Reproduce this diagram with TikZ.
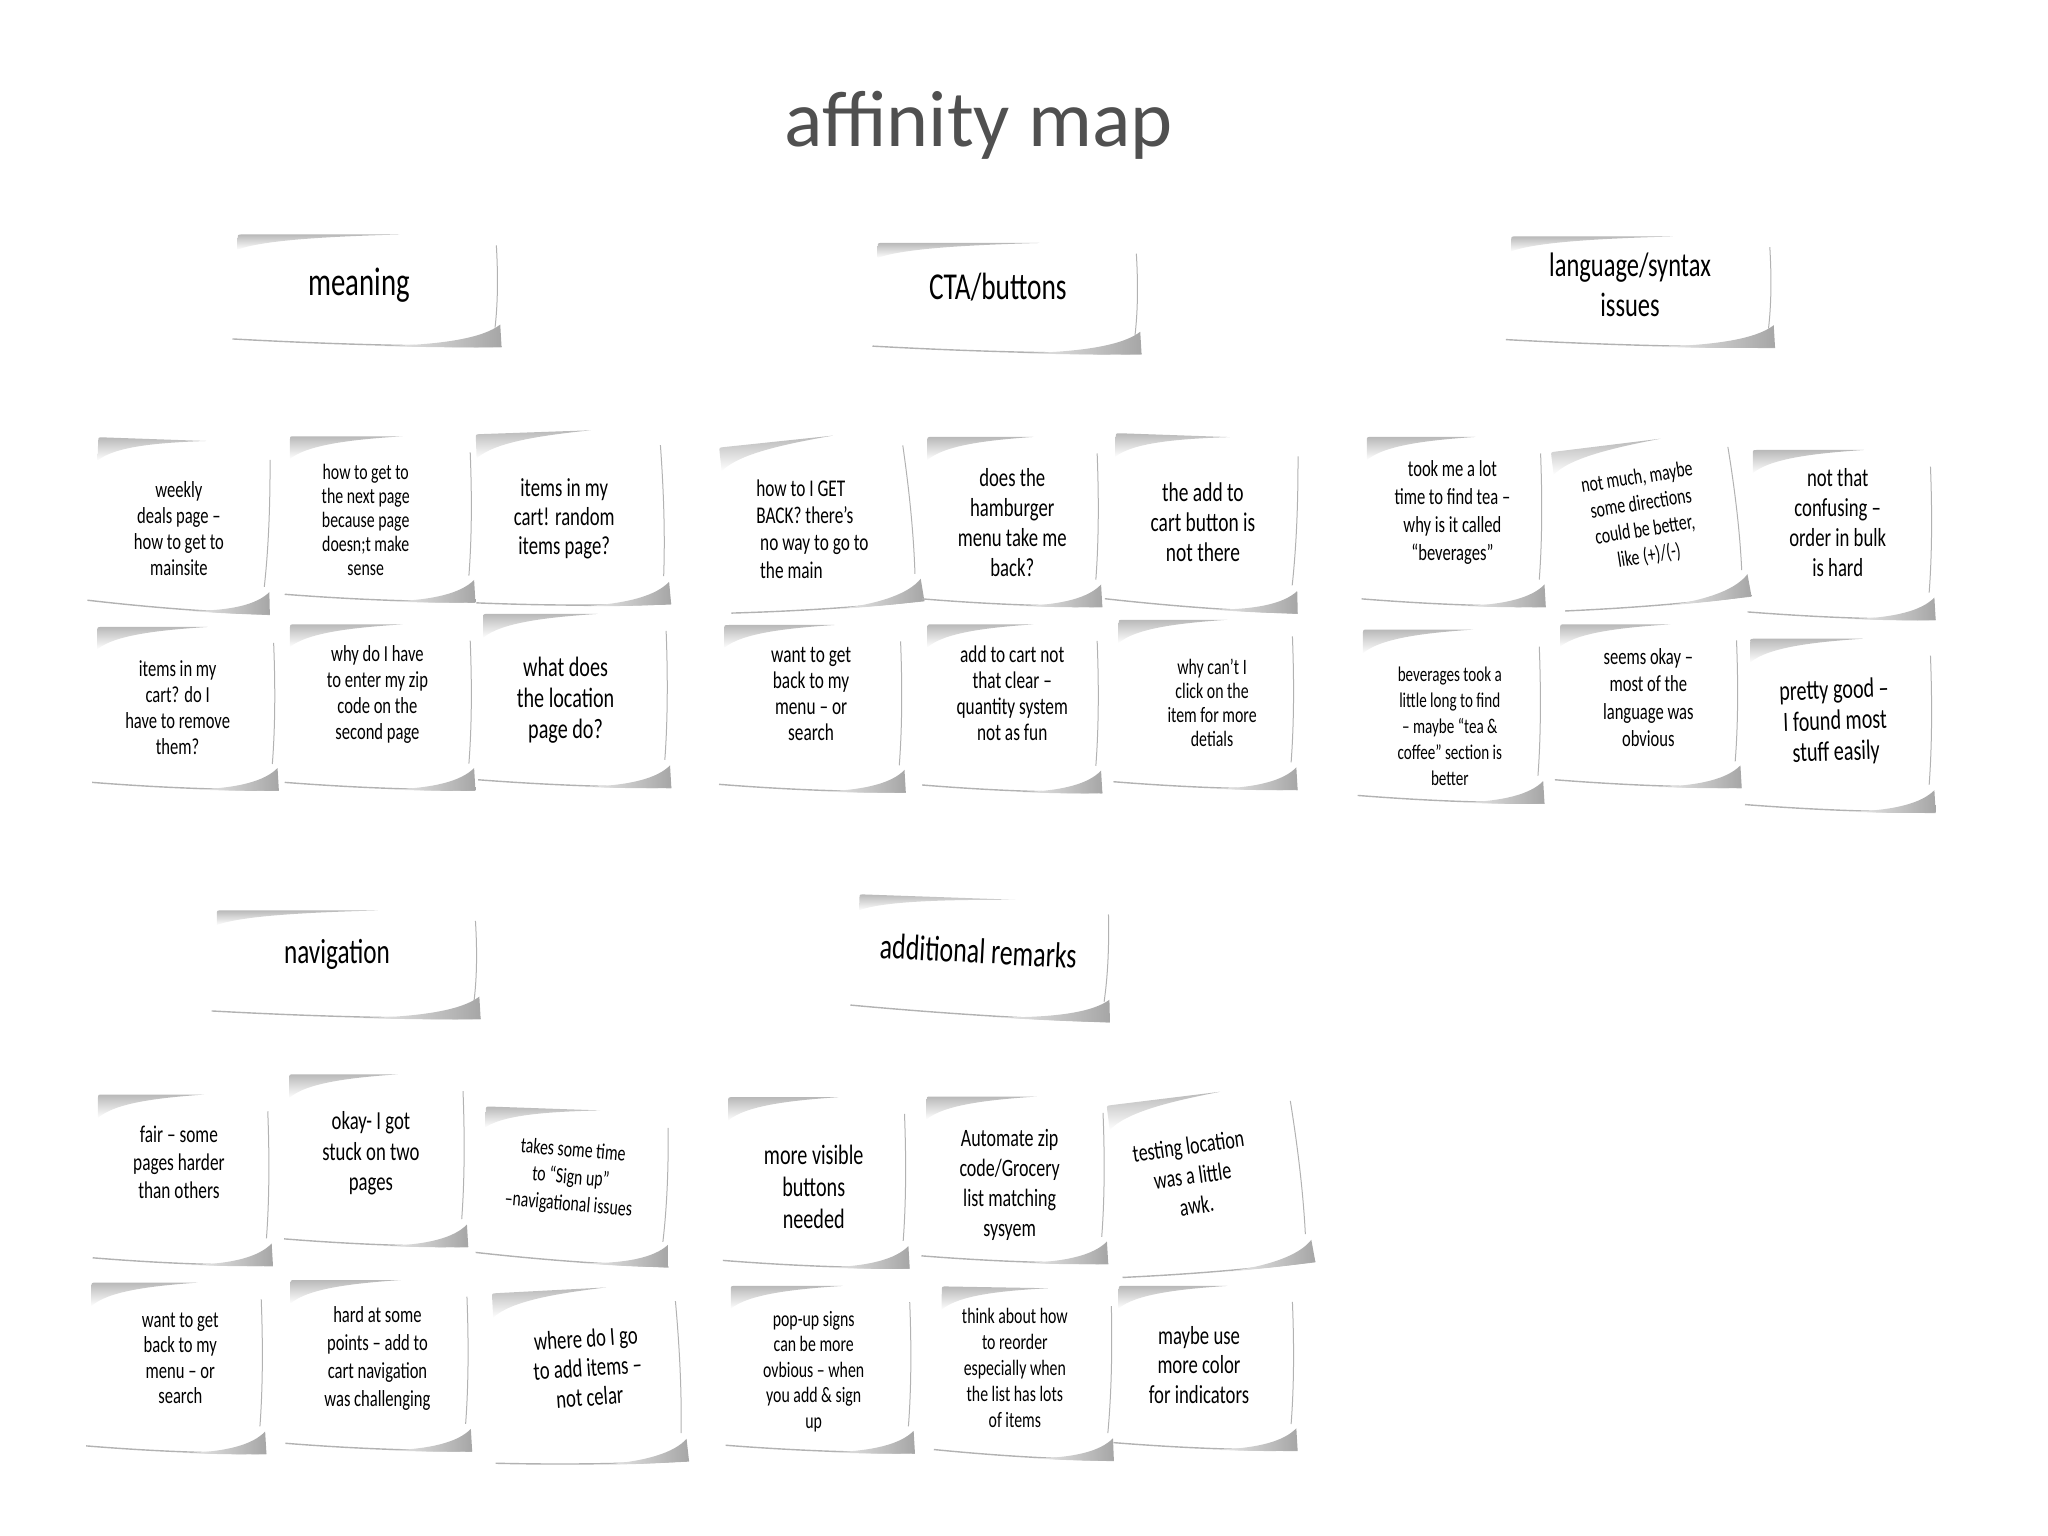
\documentclass[tikz,border=0pt]{standalone}
\usepackage{fontspec}
\newfontfamily\hand{Carlito}[FakeStretch=0.72,Ligatures=TeX]
\newfontfamily\titlefont{Carlito}[Ligatures=TeX]
\definecolor{titlegray}{RGB}{80,80,80}
\newcommand{\notepaper}[5]{%
 \begin{scope}[shift={(#1,#2)},rotate=#5]
  \pgfmathsetmacro\npA{#3/2}%
  \pgfmathsetmacro\npB{#4/2}%
  \shade[top color=gray!55,bottom color=white]
    (-\npA,-0.72*\npB) -- (-\npA,-\npB+3) .. controls (-\npA,-\npB) .. (-\npA+4,-\npB)
    -- (0.25*\npA,-\npB) .. controls (-0.3*\npA,-0.96*\npB) and (-0.8*\npA,-0.9*\npB) .. (-\npA,-0.72*\npB) -- cycle;
  \draw[gray!60,line width=0.5pt] (\npA,-0.8*\npB) .. controls (\npA+1.5,-0.2*\npB) and (\npA+1,0.3*\npB) .. (\npA-1,0.72*\npB);
  \draw[gray!60,line width=0.7pt] (-\npA-4,\npB-3) .. controls (-0.3*\npA,\npB+1) and (0.3*\npA,\npB+2.5) .. (\npA+4,\npB+3);
  \shade[left color=gray!15,right color=gray!70]
    (0.1*\npA,\npB+2.5) .. controls (0.6*\npA,\npB+1.5) and (0.9*\npA,\npB-4) .. (\npA+3,\npB-14)
    -- (\npA+4,\npB+3) .. controls (0.7*\npA,\npB+4) and (0.4*\npA,\npB+3) .. (0.1*\npA,\npB+2.5) -- cycle;
 \end{scope}}
\newcommand{\hs}[2]{\hand\fontsize{#1}{#2}\selectfont}
\tikzset{
  ntext/.style={align=center,inner sep=0pt,text=black},
  htext/.style={align=center,inner sep=0pt,text=black}
}
\begin{document}
\begin{tikzpicture}[x=0.653pt,y=-0.653pt]
\useasboundingbox (0,0) rectangle (1568,1176);
% title
\node[font=\titlefont\fontsize{40}{40}\selectfont,text=titlegray,anchor=base] (title) at (749,112) {affinity map};

% headers
\notepaper{281}{221}{198}{83}{0}
\node[htext,font=\hs{20}{22}] (hmeaning) at (275,218) {meaning};
\notepaper{771}{227}{198}{82}{0}
\node[htext,font=\hs{19}{21}] (hcta) at (764,220) {CTA/buttons};
\notepaper{1256}{222}{198}{82}{0}
\node[htext,font=\hs{17}{19.6}] (hlang) at (1248,218) {language/syntax\\issues};
\notepaper{265}{737}{198}{80}{0}
\node[htext,font=\hs{17.5}{20}] (hnav) at (258,731) {navigation};
\notepaper{752}{732}{191}{88}{-2}
\node[htext,font=\hs{18}{20},rotate=-3] (hadd) at (749,728) {additional remarks};

% meaning
\notepaper{139}{401}{132}{128}{-2}
\node[ntext,font=\hs{11.5}{13}] (m1) at (137,405) {weekly\\deals page –\\how to get to\\mainsite};
\notepaper{291}{396}{138}{124}{0}
\node[ntext,font=\hs{11}{12}] (m2) at (280,398) {how to get to\\the next page\\because page\\doesn;t make\\sense};
\notepaper{437}{396}{141}{132}{2}
\node[ntext,font=\hs{13}{14.5}] (m3) at (432,397) {items in my\\cart! random\\items page?};
\notepaper{142}{541}{135}{122}{0}
\node[ntext,font=\hs{11.5}{13}] (m4) at (136,542) {items in my\\cart? do I\\have to remove\\them?};
\notepaper{291}{540}{138}{124}{0}
\node[ntext,font=\hs{11.5}{13}] (m5) at (289,532) {why do I have\\to enter my zip\\code on the\\second page};
\notepaper{440}{535}{140}{130}{0}
\node[ntext,font=\hs{14}{15.3}] (m6) at (433,536) {what does\\the location\\page do?};

% CTA
\notepaper{627}{400}{140}{130}{6}
\node[ntext,font=\hs{12}{13.7},align=left] (c1) at (622,405) {how to I GET\\BACK? there’s\\\ no way to go to\\\ the main};
\notepaper{775}{398}{130}{127}{0}
\node[ntext,font=\hs{13}{15}] (c2) at (775,400) {does the\\hamburger\\menu take me\\back?};
\notepaper{922}{399}{140}{130}{-2}
\node[ntext,font=\hs{13.5}{15}] (c3) at (921,400) {the add to\\cart button is\\not there};
\notepaper{622}{541}{135}{125}{0}
\node[ntext,font=\hs{12}{13}] (c4) at (621,531) {want to get\\back to my\\menu – or\\search};
\notepaper{775}{541}{130}{126}{0}
\node[ntext,font=\hs{12}{13}] (c5) at (775,531) {add to cart not\\that clear –\\quantity system\\not as fun};
\notepaper{923}{538}{133}{127}{0}
\node[ntext,font=\hs{11}{12}] (c6) at (928,538) {why can’t I\\click on the\\item for more\\detials};

% language
\notepaper{1113}{398}{133}{127}{0}
\node[ntext,font=\hs{11.5}{14}] (l1) at (1112,392) {took me a lot\\time to find tea –\\why is it called\\“beverages”};
\notepaper{1262}{400}{135}{125}{7}
\node[ntext,font=\hs{11}{13.2},rotate=9] (l2) at (1258,396) {not much, maybe\\some directions\\could be better,\\like (+)/(-)};
\notepaper{1410}{408}{136}{127}{0}
\node[ntext,font=\hs{13}{15}] (l3) at (1407,400) {not that\\confusing –\\order in bulk\\is hard};
\notepaper{1111}{547}{135}{130}{0}
\node[ntext,font=\hs{10.5}{13}] (l4) at (1110,556) {beverages took a\\little long to find\\– maybe “tea \&\\coffee” section is\\better};
\notepaper{1262}{539}{135}{122}{0}
\node[ntext,font=\hs{11.5}{13.7}] (l5) at (1262,534) {seems okay –\\most of the\\language was\\obvious};
\notepaper{1409}{554}{138}{130}{0}
\node[ntext,font=\hs{14}{15.5},rotate=2] (l6) at (1405,553) {pretty good –\\I found most\\stuff easily};

% navigation
\notepaper{140}{902}{130}{128}{0}
\node[ntext,font=\hs{12}{14}] (n1) at (137,890) {fair – some\\pages harder\\than others};
\notepaper{288}{887}{133}{129}{0}
\node[ntext,font=\hs{13}{15.3}] (n2) at (284,883) {okay- I got\\stuck on two\\pages};
\notepaper{440}{907}{140}{115}{-2}
\node[ntext,font=\hs{11}{13.5},rotate=-5] (n3) at (437,902) {takes some time\\to “Sign up”\\–navigational issues};
\notepaper{135}{1046}{130}{128}{0}
\node[ntext,font=\hs{11.5}{12.7}] (n4) at (138,1040) {want to get\\back to my\\menu – or\\search};
\notepaper{290}{1044}{135}{128}{0}
\node[ntext,font=\hs{11.5}{14}] (n5) at (289,1040) {hard at some\\points – add to\\cart navigation\\was challenging};
\notepaper{450}{1053}{140}{133}{3}
\node[ntext,font=\hs{13}{14.7},rotate=4] (n6) at (450,1047) {where do I go\\to add items –\\not celar};

% additional remarks
\notepaper{625}{904}{135}{128}{0}
\node[ntext,font=\hs{14}{16}] (a1) at (623,909) {more visible\\buttons\\needed};
\notepaper{777}{902}{135}{125}{0}
\node[ntext,font=\hs{12.5}{15}] (a2) at (773,907) {Automate zip\\code/Grocery\\list matching\\sysyem};
\notepaper{925}{905}{140}{135}{7}
\node[ntext,font=\hs{12.5}{15},rotate=8] (a3) at (913,900) {testing location\\was a little\\awk.};
\notepaper{628}{1047}{137}{125}{0}
\node[ntext,font=\hs{11}{12.7}] (a4) at (623,1050) {pop-up signs\\can be more\\ovbious – when\\you add \& sign\\up};
\notepaper{785}{1050}{130}{128}{-1}
\node[ntext,font=\hs{11}{13}] (a5) at (777,1047) {think about how\\to reorder\\especially when\\the list has lots\\of items};
\notepaper{923}{1046}{133}{123}{0}
\node[ntext,font=\hs{13}{14.7}] (a6) at (918,1045) {maybe use\\more color\\for indicators};
\end{tikzpicture}
\end{document}
